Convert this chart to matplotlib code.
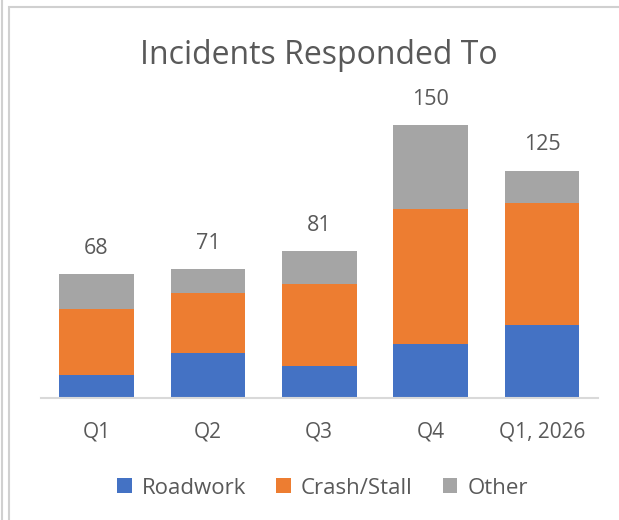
import matplotlib.pyplot as plt
import numpy as np
from matplotlib.patches import Rectangle

# Data
quarters = ["Q1", "Q2", "Q3", "Q4", "Q1, 2026"]
roadwork = [13, 25, 18, 30, 40]
crash_stall = [36, 33, 45, 74, 67]
other = [19, 13, 18, 46, 18]
totals = [68, 71, 81, 150, 125]

blue = "#4472C4"
orange = "#ED7D31"
grey = "#A5A5A5"
text_col = "#595959"

plt.rcParams["font.family"] = ["Open Sans", "DejaVu Sans"]

fig = plt.figure(figsize=(6.19, 5.2), dpi=100)
ax = fig.add_axes([0.0658, 0.234, 0.8998, 0.5606])

x = np.arange(len(quarters))
w = 0.67
b1 = ax.bar(x, roadwork, w, color=blue, label="Roadwork")
bottom2 = np.array(roadwork)
b2 = ax.bar(x, crash_stall, w, bottom=bottom2, color=orange, label="Crash/Stall")
bottom3 = bottom2 + np.array(crash_stall)
b3 = ax.bar(x, other, w, bottom=bottom3, color=grey, label="Other")

# totals above each stack
for xi, t in zip(x, totals):
    ax.annotate(str(t), (xi, t), xytext=(0, 18.5), textcoords="offset points",
                ha="center", va="center", fontsize=15.5, color=text_col)

ax.set_xlim(-0.5, len(quarters) - 0.5)
ax.set_ylim(0, 160)
ax.set_xticks(x)
ax.set_xticklabels(quarters, fontsize=15, color=text_col)
ax.tick_params(axis="x", length=0, pad=17)
ax.set_yticks([])
for s in ["top", "right", "left"]:
    ax.spines[s].set_visible(False)
ax.spines["bottom"].set_color("#D9D9D9")
ax.spines["bottom"].set_linewidth(1.5)

fig.text(0.515, 0.894, "Incidents Responded To", ha="center", va="center",
         fontsize=23, color=text_col)

fig.legend(handles=[b1, b2, b3], loc="center", bbox_to_anchor=(0.521, 0.0615),
           ncol=3, frameon=False, fontsize=16, labelcolor=text_col,
           handlelength=0.66, handleheight=0.66, handletextpad=0.45,
           columnspacing=1.35)

# chart frame like the screenshot
fig.add_artist(Rectangle((8.5 / 619, -0.1), 1.2, 1 - 7.5 / 520 + 0.1,
                         transform=fig.transFigure, fill=False,
                         edgecolor="#D0D0D0", linewidth=1.5))
fig.add_artist(plt.Line2D([1.5 / 619, 1.5 / 619], [0, 1], transform=fig.transFigure,
                          color="#D0D0D0", linewidth=1.5))

fig.savefig("out.png", dpi=100)
